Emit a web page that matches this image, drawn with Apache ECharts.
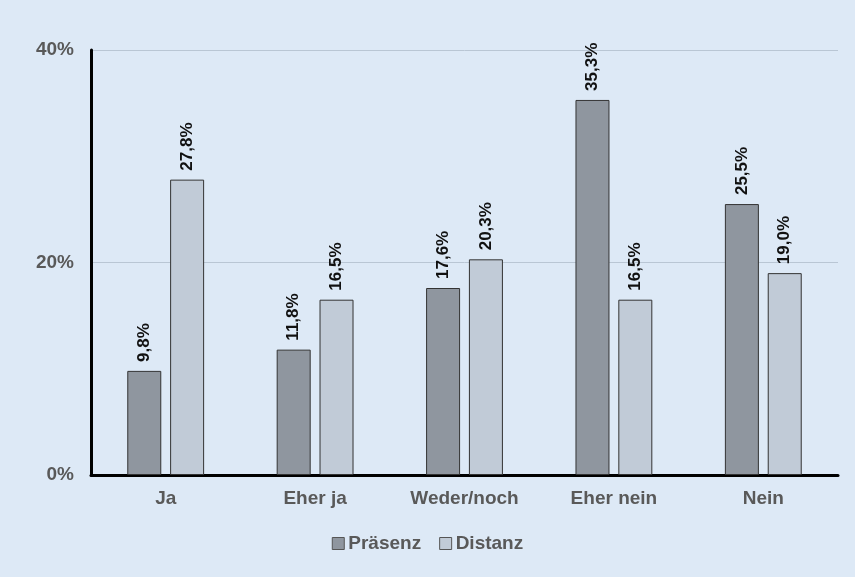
<!DOCTYPE html>
<html><head><meta charset="utf-8">
<script src="https://cdn.jsdelivr.net/npm/echarts@6/dist/echarts.min.js"></script>
<style>html,body{margin:0;padding:0;background:#dde9f6;}#c{width:855px;height:577px;}</style>
</head><body><div id="c"></div>
<script>
const categories = ['Ja', 'Eher ja', 'Weder/noch', 'Eher nein', 'Nein'];
const praesenz = [9.8, 11.8, 17.6, 35.3, 25.5];
const distanz = [27.8, 16.5, 20.3, 16.5, 19.0];
const seriesNames = ['Präsenz', 'Distanz'];

const FONT = 'Liberation Sans, Arial, sans-serif';
const fmt = v => v.toFixed(1).replace('.', ',') + '%';
const labelCfg = {
  show: true, position: 'top', rotate: 90, align: 'left', verticalAlign: 'middle',
  distance: 9, color: '#111', fontWeight: 'bold', fontSize: 17, fontFamily: FONT,
  formatter: p => fmt(p.value)
};
const chart = echarts.init(document.getElementById('c'), null, {renderer: 'canvas'});
chart.setOption({
  backgroundColor: '#dde9f6',
  animation: false,
  grid: {left: 91, right: 17, top: 50, bottom: 102, containLabel: false},
  legend: {
    data: seriesNames, top: 529, left: 'center', icon: 'rect', itemWidth: 12, itemHeight: 12, itemGap: 18,
    itemStyle: {borderColor: '#555', borderWidth: 1},
    textStyle: {color: '#595959', fontWeight: 'bold', fontSize: 19, fontFamily: FONT, padding: [0, 0, 0, -1]}
  },
  xAxis: {
    type: 'category', data: categories,
    axisLine: {lineStyle: {color: '#000', width: 3}},
    axisTick: {show: false},
    axisLabel: {color: '#595959', fontWeight: 'bold', fontSize: 19, fontFamily: FONT, margin: 14}
  },
  yAxis: {
    type: 'value', min: 0, max: 40, interval: 20,
    axisLine: {show: true, lineStyle: {color: '#000', width: 3}},
    axisTick: {show: false},
    splitLine: {lineStyle: {color: '#b9c6d4', width: 1}},
    axisLabel: {color: '#595959', fontWeight: 'bold', fontSize: 19, fontFamily: FONT, margin: 17, formatter: v => v + '%'}
  },
  series: [
    {name: seriesNames[0], type: 'bar', data: praesenz, barWidth: 34, barGap: '26%',
     itemStyle: {color: '#8f969f', borderColor: '#333', borderWidth: 1}, label: labelCfg},
    {name: seriesNames[1], type: 'bar', data: distanz, barWidth: 34,
     itemStyle: {color: '#c1cbd7', borderColor: '#333', borderWidth: 1}, label: labelCfg}
  ]
});
</script></body></html>
